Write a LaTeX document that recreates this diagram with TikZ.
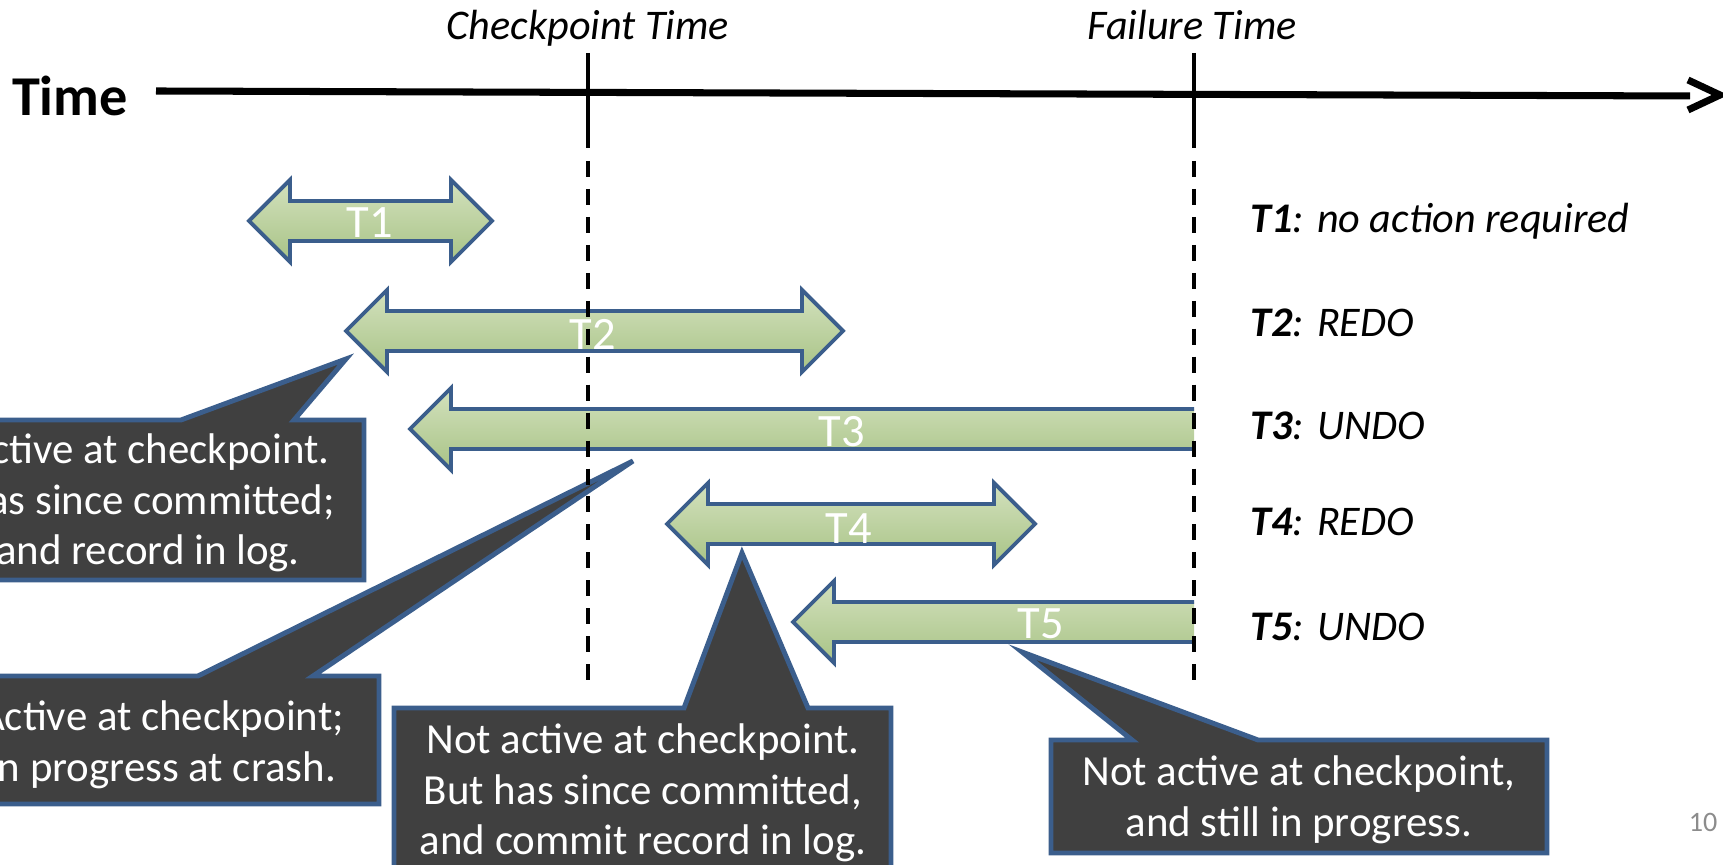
\documentclass[tikz,border=0pt]{standalone}
\usepackage{fontspec}
\setmainfont{Carlito}

\definecolor{txblue}{HTML}{3B5E8C}
\definecolor{txlight}{HTML}{D3E1BD}
\definecolor{txdark}{HTML}{A8C386}
\definecolor{boxgray}{HTML}{404040}
\definecolor{pagegray}{HTML}{8C8C8C}

\tikzset{
  arrowfill/.style={top color=txlight, bottom color=txdark},
  arrowline/.style={draw=txblue, line width=1.1pt, line join=miter},
  callout/.style={fill=boxgray, draw=txblue, line width=1.4pt, line join=miter},
  calltext/.style={text=white, align=center, font=\fontsize{12.2}{14.4}\selectfont},
  txlabel/.style={text=white, font=\fontsize{13.2}{15}\selectfont},
  result/.style={anchor=base west, inner sep=0pt, font=\itshape\fontsize{12}{14}\selectfont},
  timemark/.style={line width=1pt},
  timedash/.style={line width=1pt, dash pattern=on 4.55pt off 3.4pt},
}

% block arrow with two heads: left tip, right tip, centre line
\newcommand{\twoway}[3]{%
  \draw[arrowfill, arrowline] (#1,#3) -- (#1+41,#3-41) -- (#1+41,#3-20)
    -- (#2-41,#3-20) -- (#2-41,#3-41) -- (#2,#3) -- (#2-41,#3+41)
    -- (#2-41,#3+20) -- (#1+41,#3+20) -- (#1+41,#3+41) -- cycle;}
% block arrow pointing left, cut flat at the failure line
\newcommand{\oneway}[3]{%
  \shade[arrowfill] (#1,#3) -- (#1+41,#3-41) -- (#1+41,#3-20) -- (#2,#3-20)
    -- (#2,#3+20) -- (#1+41,#3+20) -- (#1+41,#3+41) -- cycle;
  \draw[arrowline] (#2,#3-20) -- (#1+41,#3-20) -- (#1+41,#3-41) -- (#1,#3)
    -- (#1+41,#3+41) -- (#1+41,#3+20) -- (#2,#3+20);}

\begin{document}
\begin{tikzpicture}[x=0.01cm, y=-0.01cm]
  \useasboundingbox (0,0) rectangle (1723,865);
  \clip (0,0) rectangle (1723,865);

  % time axis
  \node[font=\bfseries\fontsize{16}{19}\selectfont] (time) at (70,96) {Time};
  \coordinate (axisstart) at (156,91);
  \coordinate (axisend) at (1690,96);
  \draw[line width=2pt] (axisstart) -- (axisend);
  \draw[line width=2pt, line join=miter] (1688,80) -- (1720,95) -- (1688,110);

  % transactions
  \twoway{249}{492}{221}
  \twoway{346}{843}{331}
  \oneway{410}{1194}{429}
  \twoway{667}{1035}{524}
  \oneway{793}{1194}{622}

  % callouts
  \draw[callout] (-82,420) -- (181,420) -- (346,359) -- (294,420) -- (364,420)
    -- (364,580) -- (-82,580) -- cycle;
  \node[calltext] (c1) at (148,503) {Active at checkpoint.\\Has since committed;\\and record in log.};
  \draw[callout] (-50,676) -- (198,676) -- (633,461) -- (313,676) -- (379,676)
    -- (379,804) -- (-50,804) -- cycle;
  \node[calltext] (c2) at (162,745) {Active at checkpoint;\\in progress at crash.};
  \draw[callout] (394,708) -- (684,708) -- (742,553) -- (808,708) -- (891,708)
    -- (891,900) -- (394,900) -- cycle;
  \node[calltext] (c3) at (643,793) {Not active at checkpoint.\\But has since committed,\\and commit record in log.};
  \draw[callout] (1051,740) -- (1132,740) -- (1022,652) -- (1258,740) -- (1547,740)
    -- (1547,853) -- (1051,853) -- cycle;
  \node[calltext] (c4) at (1299,800) {Not active at checkpoint,\\and still in progress.};

  % checkpoint and failure lines
  \node[anchor=base, font=\itshape\fontsize{12}{14}\selectfont] (cptime) at (588,40) {Checkpoint Time};
  \node[anchor=base, font=\itshape\fontsize{12}{14}\selectfont] (failtime) at (1192,40) {Failure Time};
  \draw[timemark] (588,53) -- (588,148);
  \draw[timedash] (588,161) -- (588,681);
  \draw[timemark] (1194,53) -- (1194,148);
  \draw[timedash] (1194,161) -- (1194,681);

  % transaction names
  \node[txlabel] (t1) at (370,223) {T1};
  \node[txlabel] (t2) at (593,334) {T2};
  \node[txlabel] (t3) at (842,432) {T3};
  \node[txlabel] (t4) at (849,529) {T4};
  \node[txlabel] (t5) at (1041,624) {T5};

  % recovery actions
  \node[result] (r1) at (1250,233) {\textbf{T1}: no action required};
  \node[result] (r2) at (1250,337) {\textbf{T2}: REDO};
  \node[result] (r3) at (1250,440) {\textbf{T3}: UNDO};
  \node[result] (r4) at (1250,536) {\textbf{T4}: REDO};
  \node[result] (r5) at (1250,641) {\textbf{T5}: UNDO};

  \node[text=pagegray, font=\fontsize{8}{10}\selectfont] (page) at (1703,822) {10};
\end{tikzpicture}
\end{document}
